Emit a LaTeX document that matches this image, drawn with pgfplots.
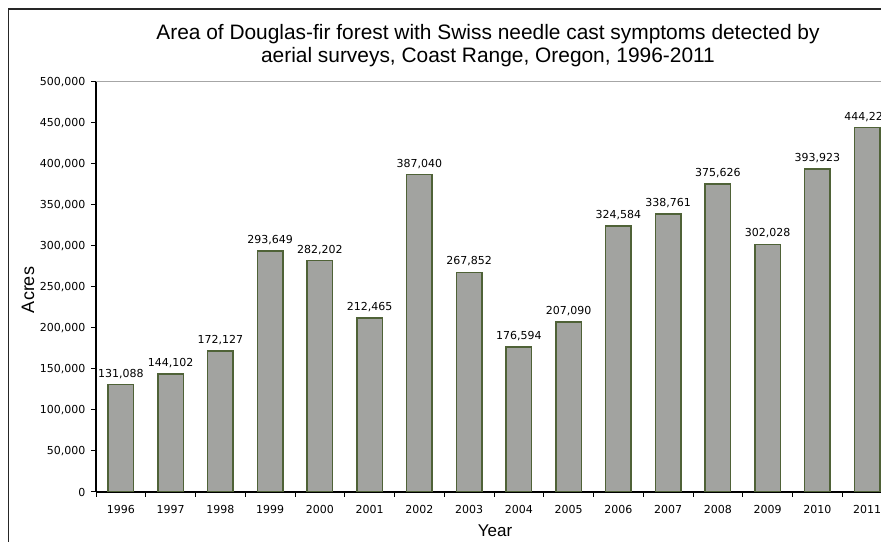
\documentclass[border=0pt]{standalone}
\usepackage{fontspec}
\setmainfont{Liberation Sans}
\newfontfamily\dejavu{DejaVu Sans}
\usepackage{pgfplots}
\pgfplotsset{compat=1.18}
\definecolor{barfill}{HTML}{A2A3A0}
\definecolor{barline}{HTML}{4F6237}
\begin{document}
\begin{tikzpicture}[x=1pt,y=1pt]
\useasboundingbox (0,0) rectangle (881,541);
\clip (0,0) rectangle (881,541);
\fill[white] (0,0) rectangle (881,541);
% outer chart frame (cut at right and bottom)
\draw[line width=1.3pt, black!85] (8.5,-5) -- (8.5,532) -- (900,532);
\begin{axis}[
  at={(96pt,49pt)}, anchor=south west,
  scale only axis, width=796pt, height=410pt,
  xmin=-0.5, xmax=15.5,
  ymin=0, ymax=500000,
  enlargelimits=false,
  axis x line*=bottom, axis y line*=left,
  axis line style={-, black, line width=1.2pt},
  ytick={0,50000,...,500000},
  scaled y ticks=false,
  yticklabel style={/pgf/number format/fixed, /pgf/number format/precision=0,
    /pgf/number format/1000 sep={,}, xshift=-2pt},
  xtick={0,...,15},
  xticklabels={1996,1997,1998,1999,2000,2001,2002,2003,2004,2005,2006,2007,2008,2009,2010,2011},
  major x tick style={draw=none},
  minor xtick={-0.5,0.5,...,15.5},
  tick align=outside,
  major tick length=5pt, minor tick length=5pt,
  tick style={black, line width=1pt},
  ticklabel style={font=\dejavu\fontsize{11}{13}\selectfont},
  /pgf/number format/assume math mode=true,
  xticklabel style={yshift=-5pt},
]
\addplot[ybar, bar width=25.5pt, fill=barfill, draw=barline, line width=1.5pt,
  nodes near coords={\pgfmathprintnumber[fixed, precision=0, 1000 sep={,}, assume math mode=true]{\pgfplotspointmeta}},
  nodes near coords style={font=\dejavu\fontsize{11}{13}\selectfont, black, anchor=south, yshift=2pt}]
coordinates {
  (0,131088) (1,144102) (2,172127) (3,293649) (4,282202) (5,212465)
  (6,387040) (7,267852) (8,176594) (9,207090) (10,324584) (11,338761)
  (12,375626) (13,302028) (14,393923) (15,444227)
};
\draw[gray!70, line width=1pt] (axis cs:-0.5,500000) -- (axis cs:15.5,500000);
\end{axis}
\node[align=center, font=\fontsize{20.9}{22.5}\selectfont] at (488,495.5)
  {Area of Douglas-fir forest with Swiss needle cast symptoms detected by\\aerial surveys, Coast Range, Oregon, 1996-2011};
\node[rotate=90, font=\fontsize{18}{20}\selectfont] at (28,251) {Acres};
\node[font=\fontsize{17}{19}\selectfont] at (495,10) {Year};
\end{tikzpicture}
\end{document}
